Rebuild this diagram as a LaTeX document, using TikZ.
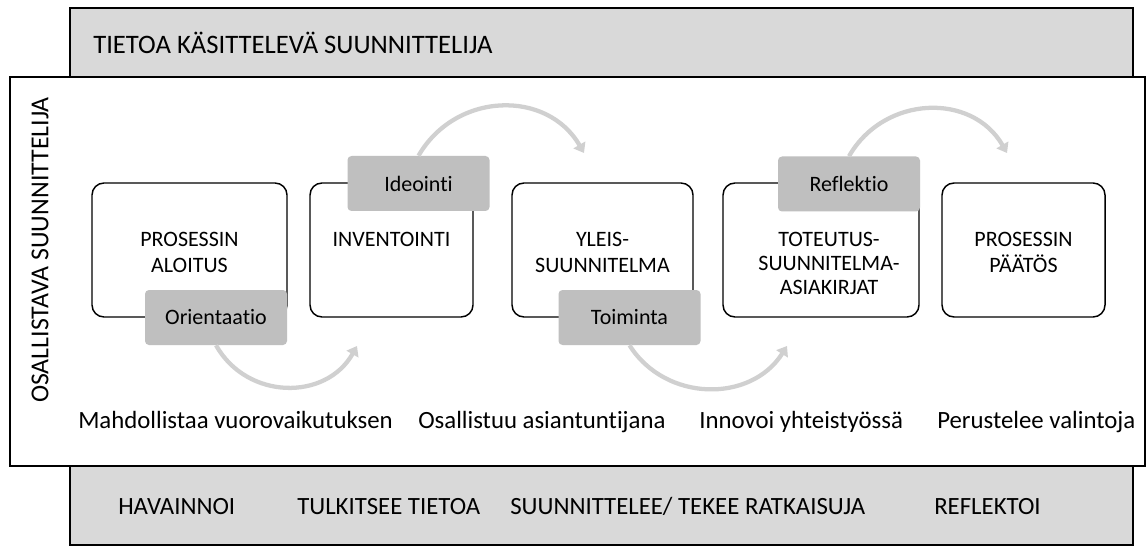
\documentclass[tikz,border=0pt]{standalone}
\usepackage{fontspec}
\setmainfont{Carlito}[Ligatures=NoCommon]
\usetikzlibrary{positioning,arrows.meta}
\definecolor{bargray}{HTML}{D9D9D9}
\definecolor{taggray}{HTML}{BFBFBF}
\definecolor{arcgray}{HTML}{D0D0D0}
\begin{document}
\begin{tikzpicture}[x=0.75pt,y=-0.75pt,
   bar/.style={draw=black, line width=1.5pt, fill=bargray},
   stage/.style={draw=black, line width=1.1pt, rounded corners=9pt, fill=white, minimum height=100.5pt},
   stagetext/.style={inner sep=0pt, align=center, font=\fontsize{16.5}{19.5}\selectfont},
   tag/.style={fill=taggray, rounded corners=3pt, minimum width=106.5pt, minimum height=41.25pt, inner sep=0pt, font=\fontsize{16.5}{19.5}\selectfont},
   flow/.style={draw=arcgray, line width=3.2pt, -{Triangle[length=7pt,width=10pt]}},
   role/.style={inner sep=0pt, anchor=base west, font=\fontsize{18.6}{22}\selectfont}]
   \useasboundingbox (0,0) rectangle (1148,552);
   % frames
   \draw[bar] (70,8) rectangle (1133,90);
   \node[role, font=\fontsize{20}{24}\selectfont] (title) at (93,54) {TIETOA KÄSITTELEVÄ SUUNNITTELIJA};
   \draw[line width=1.1pt, fill=white] (10,77) rectangle (1145,466);
   \draw[bar] (70,466) rectangle (1133,545);
   \node[rotate=90, inner sep=0pt, font=\fontsize{19.4}{22}\selectfont] (osal) at (40,250) {OSALLISTAVA SUUNNITTELIJA};
   % stages
   \node[stage, minimum width=146.25pt] (b1) at (189.5,250) {};
   \node[stage, minimum width=122.25pt] (b2) at (391.5,250) {};
   \node[stage, minimum width=135.75pt] (b3) at (602.5,250) {};
   \node[stage, minimum width=147pt] (b4) at (821,250) {};
   \node[stage, minimum width=122.25pt] (b5) at (1023.5,250) {};
   \node[stagetext, below=37.5pt of b1.north] (t1) {PROSESSIN\\ALOITUS};
   \node[stagetext, below=37.5pt of b2.north] (t2) {INVENTOINTI};
   \node[stagetext, below=37.5pt of b3.north] (t3) {YLEIS-\\SUUNNITELMA};
   \node[stagetext, below=37.5pt of b4.north, xshift=6pt, font=\fontsize{16.5}{18}\selectfont] (t4) {TOTEUTUS-\\SUUNNITELMA-\\ASIAKIRJAT};
   \node[stagetext, below=37.5pt of b5.north] (t5) {PROSESSIN\\PÄÄTÖS};
   % tags
   \node[tag] (orient) at (216,317.5) {Orientaatio};
   \node[tag] (ideo) at (418.5,183.5) {Ideointi};
   \node[tag] (toim) at (629.5,317.5) {Toiminta};
   \node[tag] (refl) at (849,184) {Reflektio};
   % arcs
   \coordinate (e1) at (357,346);
   \coordinate (e2) at (584,153);
   \coordinate (e3) at (787,346);
   \coordinate (e4) at (1007,153);
   \draw[flow] (orient.south) .. controls +(31,55) and +(-31,55) .. (e1);
   \draw[flow] (ideo.north) .. controls +(37,-64) and +(-37,-64) .. (e2);
   \draw[flow] (toim.south) .. controls +(36,57) and +(-36,57) .. (e3);
   \draw[flow] (refl.north) .. controls +(35,-61) and +(-35,-61) .. (e4);
   % roles
   \node[role] (r1) at (78,428) {Mahdollistaa vuorovaikutuksen};
   \node[role] (r2) at (418,428) {Osallistuu asiantuntijana};
   \node[role] (r3) at (699,428) {Innovoi yhteistyössä};
   \node[role] (r4) at (937,428) {Perustelee valintoja};
   \node[role] (a1) at (118,514) {HAVAINNOI};
   \node[role] (a2) at (297,514) {TULKITSEE TIETOA};
   \node[role] (a3) at (510,514) {SUUNNITTELEE/ TEKEE RATKAISUJA};
   \node[role] (a4) at (934,514) {REFLEKTOI};
\end{tikzpicture}
\end{document}
